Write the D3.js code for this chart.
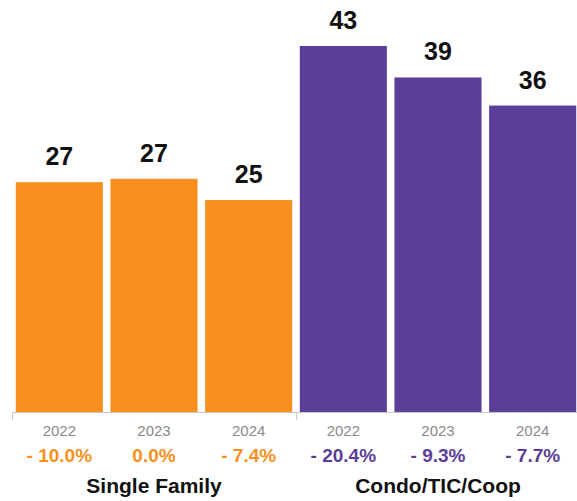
<!DOCTYPE html>
<html>
<head>
<meta charset="utf-8">
<script src="https://cdn.jsdelivr.net/npm/d3@7"></script>
<style>
  html, body { margin: 0; padding: 0; background: #fff; }
  svg { display: block; }
  text { font-family: "Liberation Sans", Arial, Helvetica, sans-serif; }
</style>
</head>
<body>
<svg id="chart" width="577" height="501"></svg>
<script>
const groups = ["Single Family", "Condo/TIC/Coop"];
const years = ["2022", "2023", "2024"];
const singleFamily = [27.0, 27.4, 24.9];
const condo = [43.0, 39.3, 36.0];
const singleFamilyChange = ["- 10.0%", "0.0%", "- 7.4%"];
const condoChange = ["- 20.4%", "- 9.3%", "- 7.7%"];
const groupColors = ["#F7901E", "#5A3E98"];

const rows = [];
[singleFamily, condo].forEach((vals, gi) => {
  const changes = gi === 0 ? singleFamilyChange : condoChange;
  vals.forEach((v, i) => rows.push({
    key: groups[gi] + "|" + years[i], group: gi, year: years[i], value: v, change: changes[i]
  }));
});

const svg = d3.select("#chart");
const baseline = 412;

const x = d3.scaleBand()
  .domain(rows.map(d => d.key))
  .range([12, 580])
  .paddingInner(0.08)
  .paddingOuter(0.04);

const y = d3.scaleLinear().domain([0, 48.4]).range([baseline, 0]);

// bars
svg.append("g").selectAll("rect").data(rows).join("rect")
  .attr("x", d => x(d.key))
  .attr("y", d => y(d.value))
  .attr("width", x.bandwidth())
  .attr("height", d => baseline - y(d.value))
  .attr("fill", d => groupColors[d.group]);

// axis line + group boundary ticks
const step = x.step();
const x0 = x.range()[0];
const boundaries = [0, 3, 6].map(i => x0 + i * step);
svg.append("line")
  .attr("x1", x0).attr("x2", 577)
  .attr("y1", baseline + 0.5).attr("y2", baseline + 0.5)
  .attr("stroke", "#c8c8c8").attr("stroke-width", 1);
svg.append("g").selectAll("line").data(boundaries).join("line")
  .attr("x1", d => Math.round(d) + 0.5).attr("x2", d => Math.round(d) + 0.5)
  .attr("y1", baseline).attr("y2", baseline + 8)
  .attr("stroke", "#c8c8c8").attr("stroke-width", 1);

const cx = d => x(d.key) + x.bandwidth() / 2;

// value labels
svg.append("g").selectAll("text").data(rows).join("text")
  .attr("x", cx)
  .attr("y", d => y(d.value) - 17)
  .attr("text-anchor", "middle")
  .attr("font-size", 25)
  .attr("font-weight", "bold")
  .attr("fill", "#111")
  .text(d => d3.format(".0f")(d.value));

// year labels
svg.append("g").selectAll("text").data(rows).join("text")
  .attr("x", cx)
  .attr("y", 436)
  .attr("text-anchor", "middle")
  .attr("font-size", 15)
  .attr("fill", "#8a8a8a")
  .text(d => d.year);

// change labels
svg.append("g").selectAll("text").data(rows).join("text")
  .attr("x", cx)
  .attr("y", 462)
  .attr("text-anchor", "middle")
  .attr("font-size", 19)
  .attr("font-weight", "bold")
  .attr("fill", d => groupColors[d.group])
  .text(d => d.change);

// group labels
svg.append("g").selectAll("text").data(groups).join("text")
  .attr("x", (g, i) => {
    const first = x(g + "|" + years[0]);
    const last = Math.min(x(g + "|" + years[2]) + x.bandwidth(), 577);
    return (first + last) / 2;
  })
  .attr("y", 493)
  .attr("text-anchor", "middle")
  .attr("font-size", 21)
  .attr("font-weight", "bold")
  .attr("fill", "#111")
  .text(g => g);
</script>
</body>
</html>
